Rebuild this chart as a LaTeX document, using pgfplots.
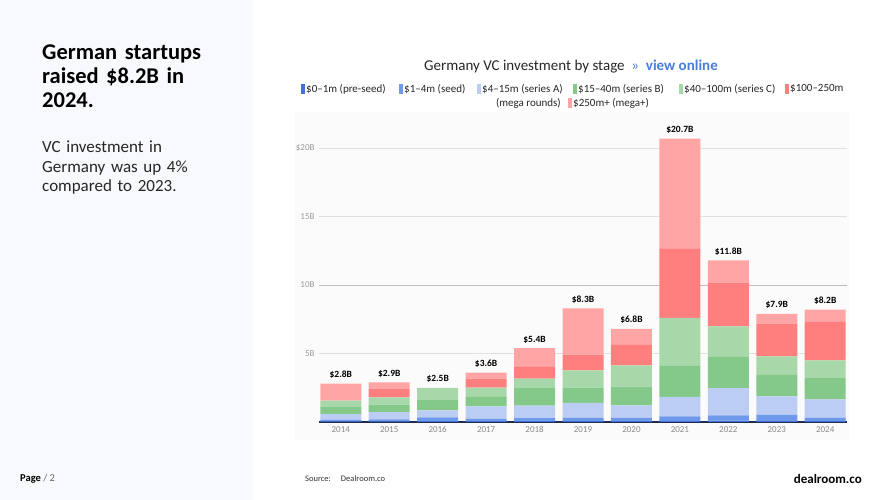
\documentclass[border=0pt]{standalone}
\usepackage{fontspec}
\setmainfont{Carlito}
\usepackage{pgfplots}
\usepackage{pgfplotstable}
\pgfplotsset{compat=1.18}

\definecolor{cPre}{HTML}{4472DA}
\definecolor{cSeed}{HTML}{6F9AEB}
\definecolor{cA}{HTML}{BCCDF4}
\definecolor{cB}{HTML}{84C98A}
\definecolor{cC}{HTML}{A8D8AA}
\definecolor{cR}{HTML}{FF7F7F}
\definecolor{cM}{HTML}{FFA5A5}
\definecolor{panel}{HTML}{F8F9FD}
\definecolor{navy}{HTML}{1E2B4A}
\definecolor{linkblue}{HTML}{4A7FD8}
\definecolor{tickgray}{HTML}{8A8A8A}

% stage amounts in $B, stacked bottom to top; tot = bar total
\pgfplotstableread{
x pre seed A B C R M tot lab
0 0.05 0.12 0.41 0.50 0.48 0.00 1.24 2.8 2.8B
1 0.05 0.15 0.53 0.54 0.53 0.61 0.49 2.9 2.9B
2 0.07 0.27 0.51 0.74 0.91 0.00 0.00 2.5 2.5B
3 0.06 0.18 0.90 0.69 0.68 0.66 0.43 3.6 3.6B
4 0.07 0.22 0.90 1.29 0.69 0.85 1.38 5.4 5.4B
5 0.08 0.24 1.07 1.12 1.26 1.15 3.38 8.3 8.3B
6 0.07 0.23 0.91 1.38 1.55 1.53 1.13 6.8 6.8B
7 0.08 0.33 1.42 2.27 3.51 5.07 8.02 20.7 20.7B
8 0.10 0.39 1.99 2.32 2.19 3.19 1.62 11.8 11.8B
9 0.12 0.42 1.33 1.61 1.32 2.38 0.72 7.9 7.9B
10 0.08 0.24 1.34 1.55 1.29 2.85 0.85 8.2 8.2B
}\vcdata

\pgfplotsset{vcframe/.style={
  at={(319pt,78pt)}, anchor=south west,
  scale only axis, width=528pt, height=301.2pt,
  xmin=-0.45, xmax=10.45, ymin=0, ymax=22,
  clip=false,
}}

\begin{document}
\begin{tikzpicture}
% page background
\fill[white] (0pt,0pt) rectangle (889pt,500pt);
\fill[panel] (0pt,0pt) rectangle (253pt,500pt);
\fill[black!1.5] (295pt,60pt) rectangle (849pt,388pt);

% left text
\node[anchor=north west, align=left, inner sep=0pt, text width=205pt,
      font=\bfseries\fontsize{22.5}{24}\selectfont] at (42pt,455pt)
  {German startups\\raised \$8.2B in\\2024.};
\node[anchor=north west, align=left, inner sep=0pt, text width=205pt,
      font=\fontsize{17}{19.5}\selectfont, text=black!85] at (42pt,359pt)
  {VC investment in\\Germany was up 4\%\\compared to 2023.};

% footer
\node[anchor=west, inner sep=0pt, font=\fontsize{10.5}{12}\selectfont] at (20pt,21pt)
  {\textbf{Page} \textcolor{black!60}{/ 2}};
\node[anchor=west, inner sep=0pt, font=\fontsize{8.5}{10}\selectfont, text=black!80] at (305pt,21pt)
  {Source:\hspace{10pt}Dealroom.co};
\node[anchor=east, inner sep=0pt, font=\bfseries\fontsize{13}{14}\selectfont, text=black] at (862pt,21pt)
  {dealroom.co};

% title
\node[inner sep=0pt, font=\fontsize{15}{17}\selectfont, text=black!85] at (571pt,433pt)
  {Germany VC investment by stage \textcolor{linkblue}{~»~ \textbf{view online}}};

% legend
\begin{scope}[font=\fontsize{11}{12}\selectfont, text=black!85]
  \foreach \c/\xx/\yy/\t in {cPre/301/411/{\$0–1m (pre-seed)},
                             cSeed/399/411/{\$1–4m (seed)},
                             cA/477/411/{\$4–15m (series A)},
                             cB/573/411/{\$15–40m (series B)},
                             cC/679/411/{\$40–100m (series C)},
                             cR/785/411/{\$100–250m},
                             cM/568/397/{\$250m+ (mega+)}}{
    \fill[\c] (\xx pt,\yy pt-5pt) rectangle (\xx pt+3.5pt,\yy pt+5pt);
    \node[anchor=west, inner sep=0pt] at (\xx pt+5pt,\yy pt) {\t};
  }
  \node[anchor=east, inner sep=0pt] at (561pt,397pt) {(mega rounds)};
\end{scope}

\begin{axis}[
  vcframe,
  ybar stacked, bar width=41pt,
  axis line style={draw=none},
  major tick length=0pt,
  xtick=data,
  xticklabels={2014,2015,2016,2017,2018,2019,2020,2021,2022,2023,2024},
  ytick={5,15,20},
  yticklabels={5B,15B,\$20B},
  extra y ticks={10},
  extra y tick labels={10B},
  extra y tick style={grid style={black!25, line width=0.8pt}},
  ymajorgrids,
  grid style={black!12, line width=0.8pt},
  /pgf/number format/assume math mode=true,
  tick label style={font=\fontsize{9}{10}\selectfont, text=tickgray},
  yticklabel style={text=black!40, xshift=-1pt},
  xticklabel style={yshift=-1pt},
  every axis plot/.append style={draw=none},
]
\addplot[fill=cPre] table[x=x,y=pre] {\vcdata};
\addplot[fill=cSeed] table[x=x,y=seed] {\vcdata};
\addplot[fill=cA] table[x=x,y=A] {\vcdata};
\addplot[fill=cB] table[x=x,y=B] {\vcdata};
\addplot[fill=cC] table[x=x,y=C] {\vcdata};
\addplot[fill=cR] table[x=x,y=R] {\vcdata};
\addplot[fill=cM] table[x=x,y=M] {\vcdata};
\draw[navy, line width=1.4pt] (axis cs:-0.45,0) -- (axis cs:10.45,0);
\end{axis}

% totals above the bars
\begin{axis}[vcframe, hide axis]
\addplot[only marks, mark=none, point meta=explicit symbolic,
  nodes near coords={\$\pgfplotspointmeta},
  every node near coord/.append style={font=\bfseries\fontsize{9.5}{10}\selectfont,
    text=black, anchor=south, yshift=1.5pt}]
  table[x=x,y=tot,meta=lab] {\vcdata};
\end{axis}
\end{tikzpicture}
\end{document}
